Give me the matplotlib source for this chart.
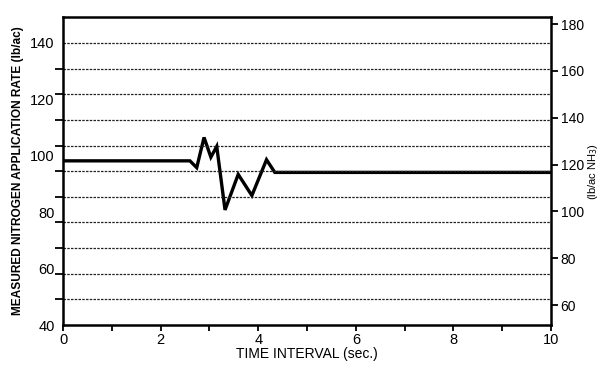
import matplotlib
matplotlib.use("Agg")
import matplotlib.pyplot as plt
import numpy as np

plt.rcParams['font.family'] = ['Liberation Sans', 'DejaVu Sans']

# measured rate (lb/ac N) vs time (s)
time_s = [0.0, 2.6, 2.74, 2.89, 3.03, 3.15, 3.32, 3.59, 3.87, 4.17, 4.34, 10.0]
rate_n = [98.2, 98.2, 95.8, 106.5, 99.5, 103.3, 80.8, 93.4, 85.9, 98.6, 94.1, 94.1]

x_ticks = [0, 2, 4, 6, 8, 10]
left_ticks = [40, 60, 80, 100, 120, 140]
right_ticks = [60, 80, 100, 120, 140, 160, 180]
grid_levels = [40 + k * 100 / 11 for k in range(1, 12)]

fig = plt.figure(figsize=(6.03, 3.66), dpi=100)
ax = fig.add_axes([0.1045, 0.112, 0.8093, 0.8416])

ax.plot(time_s, rate_n, color='black', lw=2.4, solid_joinstyle='miter')

ax.set_xlim(0, 10)
ax.set_ylim(40, 149.2)
ax.set_xticks(x_ticks)
ax.set_xticks(range(0, 11), minor=True)
ax.set_yticks(left_ticks)
ax.set_yticks(grid_levels, minor=True)
ax.tick_params(axis='y', which='major', length=0, labelsize=10.5, pad=6)
ax.tick_params(axis='y', which='minor', length=6, width=1.3)
ax.tick_params(axis='x', which='both', length=4, width=1.3, labelsize=10.5, pad=2)
for y in grid_levels:
    ax.axhline(y, color='#222222', lw=0.9, ls=(0, (2, 1)))

for s in ax.spines.values():
    s.set_linewidth(1.8)

ax.set_xlabel('TIME INTERVAL (sec.)', fontsize=10, labelpad=0)
ax.set_ylabel('MEASURED NITROGEN APPLICATION RATE (lb/ac)', fontsize=8.6,
              fontweight='bold', labelpad=4)

ax2 = ax.twinx()
ax2.set_ylim(51.5, 183)
ax2.set_yticks(right_ticks)
ax2.tick_params(axis='y', length=5, width=1.3, labelsize=10, pad=2)
for s in ax2.spines.values():
    s.set_visible(False)
fig.text(0.984, 0.53, '(lb/ac NH$_3$)', fontsize=8, rotation=90,
         ha='center', va='center')

fig.savefig('out.png', dpi=100)
